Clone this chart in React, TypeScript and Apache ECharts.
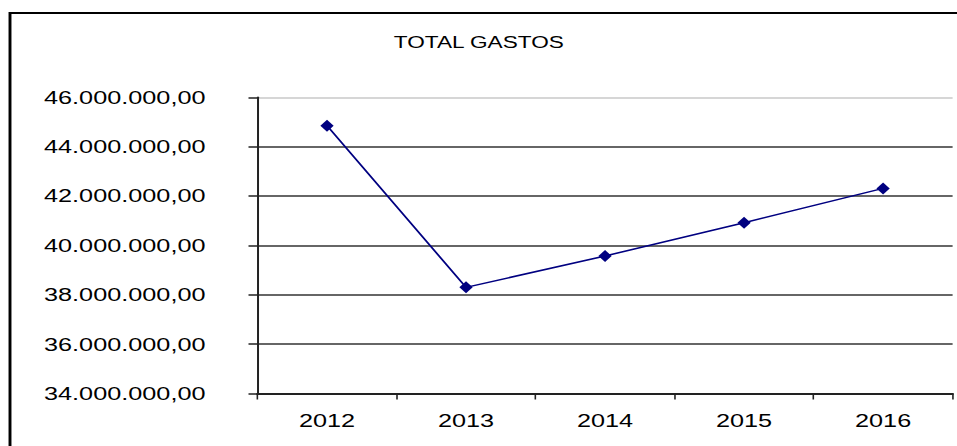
import React, { useEffect, useRef } from "react";
import * as echarts from "echarts";

const titleText = "TOTAL GASTOS";
const categories = ["2012", "2013", "2014", "2015", "2016"];
const totalGastos = [44850000, 38300000, 39570000, 40920000, 42310000];
const yMin = 34000000;
const yMax = 46000000;
const yStep = 2000000;

// The reference image is horizontally stretched; reproduce it with a scaleX on the chart box.
const STRETCH = 1.33;
const OUT_W = 957;
const OUT_H = 446;
const IN_W = OUT_W / STRETCH;

function formatEs(v: number): string {
  const int = Math.round(v).toString().replace(/\B(?=(\d{3})+(?!\d))/g, ".");
  return int + ",00";
}

export default function App() {
  const ref = useRef<HTMLDivElement>(null);
  useEffect(() => {
    document.body.style.margin = "0";
    const chart = echarts.init(ref.current!, null, { renderer: "svg" });
    const font = "Liberation Sans, Arial, sans-serif";
    const sx = (x: number) => x / STRETCH;
    chart.setOption({
      animation: false,
      backgroundColor: "#ffffff",
      title: {
        text: titleText,
        left: "center",
        top: 29,
        textStyle: { fontFamily: font, fontSize: 17, fontWeight: "normal", color: "#000" },
      },
      graphic: [
        {
          type: "line",
          shape: { x1: sx(10), y1: 12, x2: sx(10), y2: 460 },
          style: { stroke: "#000", lineWidth: 2.2 },
          silent: true,
        },
        {
          type: "line",
          shape: { x1: sx(9), y1: 13, x2: IN_W + 10, y2: 13 },
          style: { stroke: "#000", lineWidth: 2 },
          silent: true,
        },
      ],
      grid: { left: sx(257.5), right: sx(5), top: 97.3, bottom: 52.5, containLabel: false },
      xAxis: {
        type: "category",
        data: categories,
        boundaryGap: true,
        axisLine: { show: true, lineStyle: { color: "#222", width: 2 } },
        axisTick: { show: true, length: 6, alignWithLabel: false, lineStyle: { color: "#222", width: 1.2 } },
        axisLabel: { fontFamily: font, fontSize: 19, color: "#000", margin: 18 },
        splitLine: { show: false },
      },
      yAxis: {
        type: "value",
        min: yMin,
        max: yMax,
        interval: yStep,
        axisLine: { show: true, lineStyle: { color: "#222", width: 1.5 } },
        axisTick: { show: true, length: sx(9), lineStyle: { color: "#222", width: 1.5 } },
        axisLabel: {
          fontFamily: font,
          fontSize: 19,
          color: "#000",
          margin: sx(52),
          formatter: (v: number) => formatEs(v),
        },
        splitLine: {
          show: true,
          lineStyle: {
            color: ["#333", "#333", "#333", "#333", "#333", "#333", "#c8c8c8"],
            width: 1.5,
          },
        },
      },
      series: [
        {
          name: titleText,
          type: "line",
          data: totalGastos,
          symbol: "diamond",
          symbolSize: [10, 12],
          lineStyle: { color: "#000080", width: 1.5 },
          itemStyle: { color: "#000080" },
        },
      ],
    });
    return () => chart.dispose();
  }, []);
  return (
    <div style={{ width: OUT_W, height: OUT_H, overflow: "hidden", position: "relative", background: "#fff" }}>
      <div
        ref={ref}
        style={{
          width: IN_W,
          height: OUT_H,
          transform: `scaleX(${STRETCH})`,
          transformOrigin: "0 0",
        }}
      />
    </div>
  );
}
